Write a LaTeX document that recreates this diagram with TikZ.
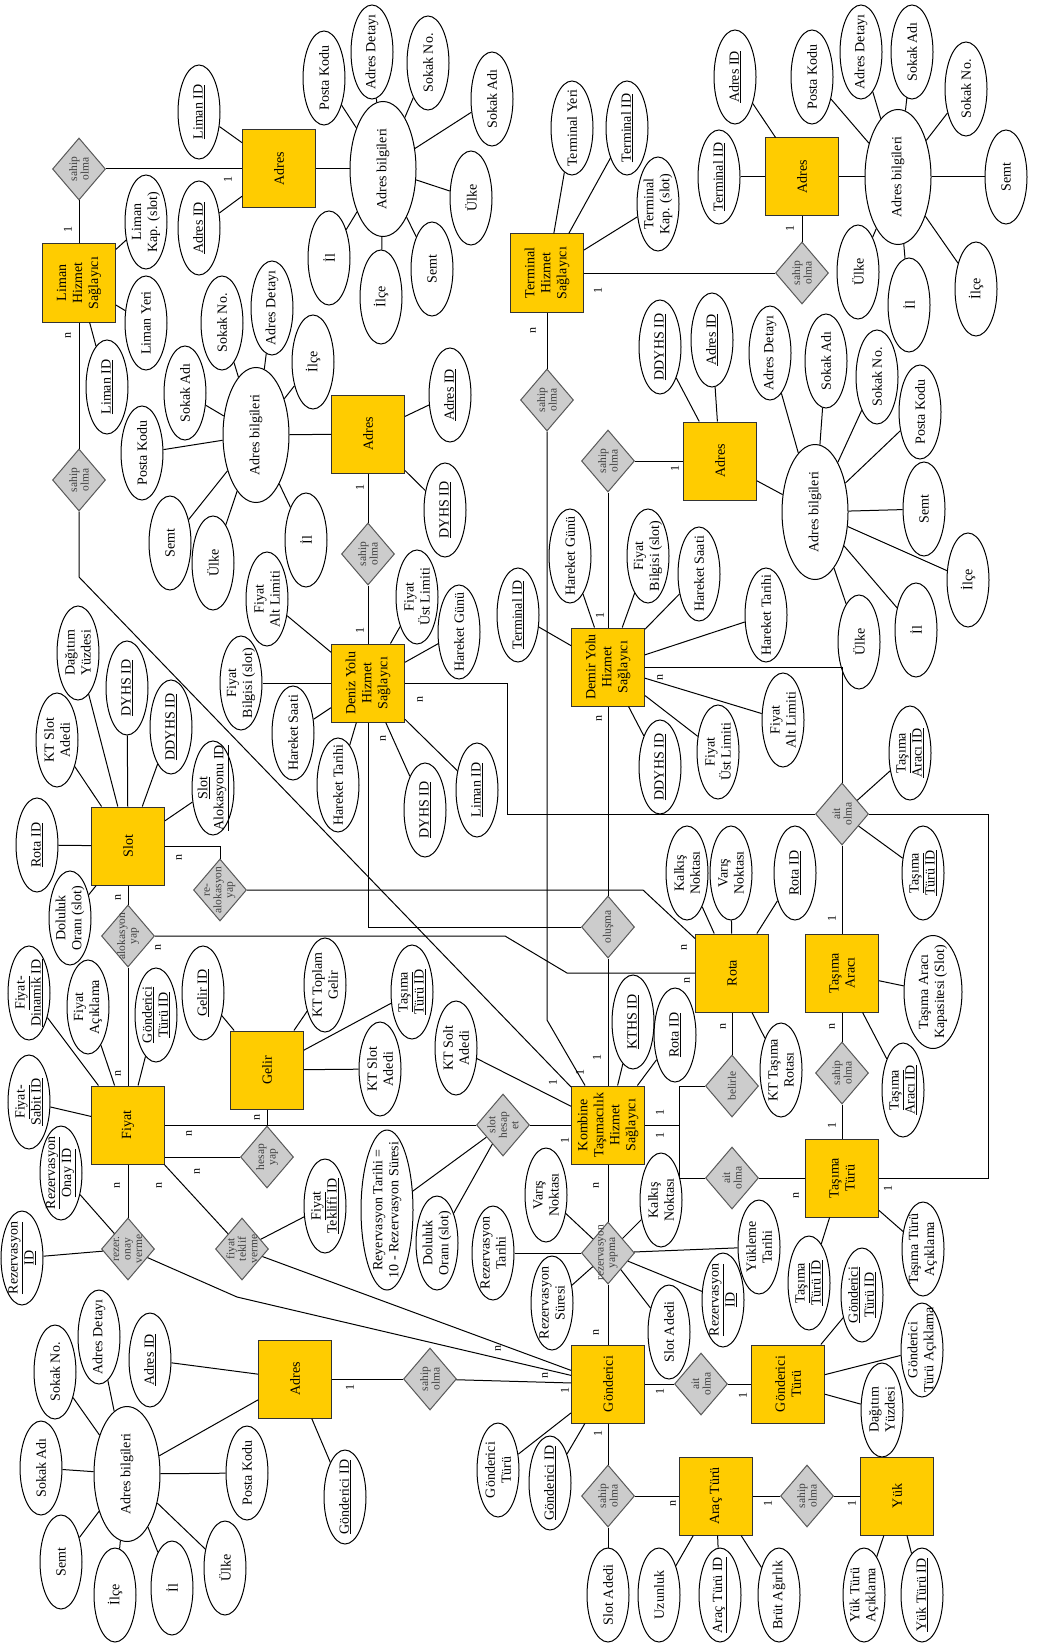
\documentclass[tikz,border=0pt]{standalone}
\usepackage{fontspec}
\setmainfont{Liberation Serif}
\usetikzlibrary{shapes.geometric}
\definecolor{entyellow}{HTML}{FFCC00}
\definecolor{relgray}{HTML}{CCCCCC}
\newcommand{\relfont}{\fontsize{11.5}{11.5}\selectfont}
\newcommand{\cardfont}{\fontsize{12}{12}\selectfont}
\tikzset{ent/.style={draw=black!80,fill=entyellow,rotate=90,minimum width=78pt,minimum height=73pt,inner sep=-30pt,align=center},
  rel/.style={diamond,draw=black!65,fill=relgray,rotate=90,minimum width=62pt,minimum height=53pt,inner sep=-30pt,align=center,font=\relfont,text=black!75},
  attr/.style={ellipse,draw,rotate=90,minimum width=94pt,minimum height=42pt,inner sep=-30pt,align=center},
  info/.style={attr,minimum width=135pt,minimum height=66pt},
  card/.style={rotate=90,inner sep=0pt,font=\cardfont}}

\begin{document}
\begin{tikzpicture}[x=1pt,y=-1pt,line width=1pt,font=\fontsize{14}{16}\selectfont]
\useasboundingbox[fill=white] (0,0) rectangle (1038,1645);
\node[ent] (liman) at (79,283){Liman\\Hizmet\\Sağlayıcı};
\node[rel] (dla) at (79,169){sahip\\olma};
\node[rel] (dlk) at (79,480){sahip\\olma};
\node[ent] (ladr) at (279,169){Adres};
\node[attr] (lmid) at (107,387){\underline{Liman ID}};
\node[attr] (lmyer) at (146,323){Liman Yeri};
\node[attr] (lmkap) at (146,222){Liman\\Kap. (slot)};
\node[attr] (lalid) at (199,112){\underline{Liman ID}};
\node[attr] (laid) at (199,228){\underline{Adres ID}};
\node[info] (lab) at (383,169){Adres bilgileri};
\node[attr] (lab1) at (324,78){Posta Kodu};
\node[attr] (lab2) at (372,52){Adres Detayı};
\node[attr] (lab3) at (428,63){Sokak No.};
\node[attr] (lab4) at (492,99){Sokak Adı};
\node[attr] (lab5) at (471,198){Ülke};
\node[attr] (lab6) at (432,269){Semt};
\node[attr] (lab7) at (381,297){İlçe};
\node[attr] (lab8) at (329,258){İl};

\node[ent] (term) at (547,273){Terminal\\Hizmet\\Sağlayıcı};
\node[rel] (dta) at (802,273){sahip\\olma};
\node[rel] (dtk) at (547,400){sahip\\olma};
\node[ent] (tadr) at (802,177){Adres};
\node[attr] (tyer) at (572,128){Terminal Yeri};
\node[attr] (tid) at (627,128){\underline{Terminal ID}};
\node[attr] (tkap) at (658,204){Terminal\\Kap. (slot)};
\node[attr] (tatid) at (719,177){\underline{Terminal ID}};
\node[attr] (taid) at (735,77){\underline{Adres ID}};
\node[info] (tab) at (898,177){Adres bilgileri};
\node[attr] (tab1) at (812,77){Posta Kodu};
\node[attr] (tab2) at (861,52){Adres Detayı};
\node[attr] (tab3) at (912,52){Sokak Adı};
\node[attr] (tab4) at (966,89){Sokak No.};
\node[attr] (tab5) at (1006,177){Semt};
\node[attr] (tab6) at (976,289){İlçe};
\node[attr] (tab7) at (909,305){İl};
\node[attr] (tab8) at (858,272){Ülke};

\node[ent] (deniz) at (368,683){Deniz Yolu\\Hizmet\\Sağlayıcı};
\node[rel] (dda) at (368,554){sahip\\olma};
\node[ent] (dadr) at (368,434){Adres};
\node[attr] (daid) at (450,395){\underline{Adres ID}};
\node[attr] (dadyid) at (445,510){\underline{DYHS ID}};
\node[info] (dab) at (256,435){Adres bilgileri};
\node[attr] (dab1) at (222,323){Sokak No.};
\node[attr] (dab2) at (272,308){Adres Detayı};
\node[attr] (dab3) at (313,362){İlçe};
\node[attr] (dab4) at (185,393){Sokak Adı};
\node[attr] (dab5) at (142,453){Posta Kodu};
\node[attr] (dab6) at (170,543){Semt};
\node[attr] (dab7) at (213,563){Ülke};
\node[attr] (dab8) at (306,540){İl};
\node[attr] (dn1) at (267,599){Fiyat\\Alt Limiti};
\node[attr] (dn2) at (417,597){Fiyat\\Üst Limiti};
\node[attr] (dn3) at (241,683){Fiyat\\Bilgisi (slot)};
\node[attr] (dn4) at (459,632){Hareket Günü};
\node[attr] (dn5) at (293,733){Hareket Saati};
\node[attr] (dn6) at (338,785){Hareket Tarihi};
\node[attr] (dn7) at (425,810){\underline{DYHS ID}};
\node[attr] (dn8) at (477,790){\underline{Liman ID}};

\node[ent] (demir) at (608,667){Demir Yolu\\Hizmet\\Sağlayıcı};
\node[rel] (dya) at (608,461){sahip\\olma};
\node[ent] (yadr) at (720,461){Adres};
\node[attr] (yaid1) at (660,347){\underline{DDYHS ID}};
\node[attr] (yaid2) at (712,340){\underline{Adres ID}};
\node[info] (yab) at (815,512){Adres bilgileri};
\node[attr] (yab1) at (770,353){Adres Detayı};
\node[attr] (yab2) at (826,361){Sokak Adı};
\node[attr] (yab3) at (877,377){Sokak No.};
\node[attr] (yab4) at (920,412){Posta Kodu};
\node[attr] (yab5) at (924,509){Semt};
\node[attr] (yab6) at (968,580){İlçe};
\node[attr] (yab7) at (916,630){İl};
\node[attr] (yab8) at (859,642){Ülke};
\node[attr] (dm1) at (518,615){\underline{Terminal ID}};
\node[attr] (dm2) at (570,556){Hareket Günü};
\node[attr] (dm3) at (648,556){Fiyat\\Bilgisi (slot)};
\node[attr] (dm4) at (699,574){Hareket Saati};
\node[attr] (dm5) at (766,615){Hareket Tarihi};
\node[attr] (dm6) at (783,720){Fiyat\\Alt Limiti};
\node[attr] (dm7) at (718,752){Fiyat\\Üst Limiti};
\node[attr] (dm8) at (660,767){\underline{DDYHS ID}};
\node[rel] (dait1) at (842,814){ait\\olma};
\node[attr] (ta1) at (910,753){\underline{Taşıma}\\\underline{Aracı ID}};
\node[attr] (ta2) at (923,873){\underline{Taşıma}\\\underline{Türü ID}};

\node[ent] (slot) at (128,846){Slot};
\node[attr] (sl1) at (37,845){\underline{Rota ID}};
\node[attr] (sl2) at (70,918){Doluluk\\Oranı (slot)};
\node[attr] (sl3) at (57,740){KT Slot\\Adedi};
\node[attr] (sl4) at (78,653){Dağıtım\\Yüzdesi};
\node[attr] (sl5) at (127,688){\underline{DYHS ID}};
\node[attr] (sl6) at (171,727){\underline{DDYHS ID}};
\node[attr] (sl7) at (213,788){\underline{Slot}\\\underline{Alokasyonu ID}};
\node[rel] (dre) at (220,890){re-\\alokasyon\\yap};
\node[rel] (dal) at (128,936){alokasyon\\yap};

\node[ent] (fiyat) at (128,1125){Fiyat};
\node[attr] (fy1) at (29,993){\underline{Fiyat-}\\\underline{Dinamik ID}};
\node[attr] (fy2) at (88,1007){Fiyat\\Açıklama};
\node[attr] (fy3) at (156,1015){\underline{Gönderici}\\\underline{Türü ID}};
\node[attr] (fy4) at (29,1102){\underline{Fiyat-}\\\underline{Sabit ID}};
\node[rel] (dron) at (128,1249){rezer.\\onay\\verme};
\node[attr] (ro1) at (61,1173){\underline{Rezervasyon}\\\underline{Onay ID}};
\node[attr] (ro2) at (22,1258){\underline{Rezervasyon}\\\underline{ID}};
\node[rel] (dfte) at (242,1249){fiyat\\teklif\\verme};
\node[attr] (ft1) at (325,1206){\underline{Fiyat}\\\underline{Teklifi ID}};

\node[ent] (gelir) at (267,1070){Gelir};
\node[attr] (gl1) at (203,993){\underline{Gelir ID}};
\node[attr] (gl2) at (325,985){KT Toplam\\Gelir};
\node[attr] (gl3) at (412,992){\underline{Taşıma}\\\underline{Türü ID}};
\node[attr] (gl4) at (380,1069){KT Slot\\Adedi};
\node[rel] (dhes) at (267,1157){hesap\\yap};
\node[rel] (dshe) at (503,1125){slot\\hesap\\et};
\node[attr,minimum width=160pt,minimum height=52pt] (sh1) at (387,1210){Reyervasyon Tarihi =\\10 - Rezervasyon Süresi};
\node[attr] (sh2) at (437,1243){Doluluk\\Oranı (slot)};
\node[attr] (kt1) at (456,1048){KT Solt\\Adedi};

\node[ent] (komb) at (608,1125){Kombine\\Taşımacılık\\Hizmet\\Sağlayıcı};
\node[attr] (kb1) at (633,1022){\underline{KTHS ID}};
\node[attr] (kb2) at (675,1035){\underline{Rota ID}};
\node[rel] (dol) at (608,927){oluşma};
\node[ent] (rota) at (732,973){Rota};
\node[attr] (rt1) at (687,873){Kalkış\\Noktası};
\node[attr] (rt2) at (731,873){Varış\\Noktası};
\node[attr] (rt3) at (795,873){\underline{Rota ID}};
\node[attr] (rt4) at (781,1070){KT Taşıma\\Rotası};
\node[rel] (dbel) at (732,1086){belirle};
\node[ent] (tarac) at (842,973){Taşıma\\Aracı};
\node[attr,minimum width=113pt,minimum height=58pt] (tr1) at (933,992){Taşıma Aracı\\Kapasitesi (Slot)};
\node[attr] (tr2) at (903,1090){\underline{Taşıma}\\\underline{Aracı ID}};
\node[rel] (dsta) at (842,1073){sahip\\olma};
\node[ent] (tturu) at (842,1178){Taşıma\\Türü};
\node[attr] (tt1) at (809,1283){\underline{Taşıma}\\\underline{Türü ID}};
\node[attr] (tt2) at (923,1249){Taşıma Türü\\Açıklama};
\node[rel] (dait2) at (732,1178){ait\\olma};

\node[rel] (dryp) at (608,1253){rezervasyon\\yapma};
\node[attr] (ry1) at (546,1195){Varış\\Noktası};
\node[attr] (ry2) at (661,1200){Kalkış\\Noktası};
\node[attr] (ry3) at (493,1253){Rezervasyon\\Tarihi};
\node[attr] (ry4) at (552,1303){Rezervasyon\\Süresi};
\node[attr] (ry5) at (669,1332){Slot Adedi};
\node[attr] (ry6) at (723,1300){\underline{Rezervasyon}\\\underline{ID}};
\node[attr] (ry7) at (759,1247){Yükleme\\Tarihi};

\node[ent] (gond) at (608,1384){Gönderici};
\node[attr] (gn1) at (498,1470){Gönderici\\Türü};
\node[attr] (gn2) at (550,1483){\underline{Gönderici ID}};
\node[rel] (dait3) at (701,1384){ait\\olma};
\node[ent] (gturu) at (788,1384){Gönderici\\Türü};
\node[attr] (gt1) at (862,1295){\underline{Gönderici}\\\underline{Türü ID}};
\node[attr] (gt2) at (922,1350){Gönderici\\Türü Açıklama};
\node[attr] (gt3) at (882,1410){Dağıtım\\Yüzdesi};
\node[rel] (dsar) at (608,1496){sahip\\olma};
\node[attr] (sadet) at (608,1595){Slot Adedi};
\node[ent] (arac) at (716,1496){Araç Türü};
\node[attr] (ar1) at (659,1595){Uzunluk};
\node[attr] (ar2) at (720,1595){\underline{Araç Türü ID}};
\node[attr] (ar3) at (779,1595){Brüt Ağırlık};
\node[rel] (dsyk) at (807,1496){sahip\\olma};
\node[ent] (yuk) at (897,1496){Yük};
\node[attr] (yk1) at (864,1595){Yük Türü\\Açıklama};
\node[attr] (yk2) at (922,1595){\underline{Yük Türü ID}};

\node[rel] (dsga) at (430,1379){sahip\\olma};
\node[ent] (gadr) at (295,1379){Adres};
\node[attr] (ga1) at (150,1360){\underline{Adres ID}};
\node[attr] (ga2) at (345,1497){\underline{Gönderici ID}};
\node[info] (gab) at (127,1474){Adres bilgileri};
\node[attr] (gab1) at (99,1337){Adres Detayı};
\node[attr] (gab2) at (55,1372){Sokak No.};
\node[attr] (gab3) at (41,1468){Sokak Adı};
\node[attr] (gab4) at (61,1562){Semt};
\node[attr] (gab5) at (115,1595){İlçe};
\node[attr] (gab6) at (172,1588){İl};
\node[attr] (gab7) at (225,1568){Ülke};
\node[attr] (gab8) at (247,1473){Posta Kodu};

\foreach \i in {1,...,8}{\draw (lab)--(lab\i); \draw (tab)--(tab\i); \draw (dab)--(dab\i); \draw (yab)--(yab\i); \draw (gab)--(gab\i);}
\foreach \n in {lmid,lmyer,lmkap}{\draw (liman)--(\n);}
\foreach \n in {lalid,laid,lab}{\draw (ladr)--(\n);}
\foreach \n in {tyer,tid,tkap}{\draw (term)--(\n);}
\foreach \n in {tatid,taid,tab}{\draw (tadr)--(\n);}
\foreach \n in {daid,dadyid,dab}{\draw (dadr)--(\n);}
\foreach \n in {dn1,dn2,dn3,dn4,dn5,dn6,dn7,dn8}{\draw (deniz)--(\n);}
\foreach \n in {yaid1,yaid2,yab}{\draw (yadr)--(\n);}
\foreach \n in {dm1,dm2,dm3,dm4,dm5,dm6,dm7,dm8}{\draw (demir)--(\n);}
\foreach \n in {ta1,ta2}{\draw (dait1)--(\n);}
\foreach \n in {sl1,sl2,sl3,sl4,sl5,sl6,sl7}{\draw (slot)--(\n);}
\foreach \n in {fy1,fy2,fy3,fy4}{\draw (fiyat)--(\n);}
\foreach \n in {ro1,ro2}{\draw (dron)--(\n);}
\draw (dfte)--(ft1);
\foreach \n in {gl1,gl2,gl3,gl4}{\draw (gelir)--(\n);}
\foreach \n in {sh1,sh2}{\draw (dshe)--(\n);}
\foreach \n in {kt1,kb1,kb2}{\draw (komb)--(\n);}
\foreach \n in {rt1,rt2,rt3,rt4}{\draw (rota)--(\n);}
\foreach \n in {tr1,tr2}{\draw (tarac)--(\n);}
\foreach \n in {tt1,tt2}{\draw (tturu)--(\n);}
\foreach \n in {ry1,ry2,ry3,ry4,ry5,ry6,ry7}{\draw (dryp)--(\n);}
\foreach \n in {gn1,gn2}{\draw (gond)--(\n);}
\foreach \n in {gt1,gt2,gt3}{\draw (gturu)--(\n);}
\foreach \n in {ar1,ar2,ar3}{\draw (arac)--(\n);}
\foreach \n in {yk1,yk2}{\draw (yuk)--(\n);}
\foreach \n in {ga1,ga2,gab}{\draw (gadr)--(\n);}

\draw (liman)--(dla); \draw (dla)--(ladr); \draw (liman)--(dlk);
\draw (dlk)--(79,577)--(komb);
\draw (term)--(dta); \draw (dta)--(tadr); \draw (term)--(dtk);
\draw (dtk)--(547,1020)--(komb);
\draw (deniz)--(dda); \draw (dda)--(dadr);
\draw (demir)--(dya); \draw (dya)--(yadr);
\draw (deniz)|-(dol); \draw (demir)--(dol); \draw (dol)--(komb);
\draw (deniz)-|(507,814)--(dait1);
\draw (demir)-|(dait1);
\draw (dait1)--(tarac);
\draw (dait1)-|(988,1178)--(tturu);
\draw (slot)--(dal); \draw (dal)--(fiyat);
\draw (dal)--(505,936)--(567,973)--(rota);
\draw (slot)-|(dre); \draw (dre)--(643,890)--(rota);
\draw (fiyat)--(dshe); \draw (dshe)--(komb);
\draw (gelir)--(dhes); \draw (dhes)--(dhes-|fiyat.south);
\draw (fiyat)--(dron); \draw (fiyat)--(dfte);
\draw (dron)--(237,1297)--(gond);
\draw (dfte)--(gond);
\draw (komb)-|(679,1086)--(dbel); \draw (dbel)--(rota);
\draw (komb)-|(679,1178)--(dait2); \draw (dait2)--(tturu);
\draw (tarac)--(dsta); \draw (dsta)--(tturu);
\draw (komb)--(dryp); \draw (dryp)--(gond);
\draw (gadr)--(dsga); \draw (dsga)--(gond);
\draw (gond)--(dait3); \draw (dait3)--(gturu);
\draw (gond)--(dsar); \draw (dsar)--(arac); \draw (dsar)--(sadet);
\draw (arac)--(dsyk); \draw (dsyk)--(yuk);

\foreach \p/\t [count=\i] in {{228,180}/1,{68,230}/1,{68,335}/n,{598,290}/1,{790,229}/1,{533,330}/n,
  {360,487}/1,{360,630}/1,{383,738}/n,{420,699}/n,{675,468}/1,{600,615}/1,{660,677}/n,{599,718}/n,
  {832,918}/1,{684,947}/n,{687,980}/n,{723,1026}/n,{832,1026}/n,{832,1125}/1,{660,1112}/1,{660,1135}/1,
  {796,1195}/n,{888,1188}/1,{553,1082}/1,{580,1072}/1,{597,1057}/1,{565,1140}/1,{596,1185}/n,
  {179,857}/n,{118,897}/n,{158,947}/n,{118,1073}/n,{257,1117}/n,{189,1133}/n,{197,1171}/n,
  {117,1185}/n,{159,1185}/n,{596,1332}/n,{498,1348}/n,{545,1375}/n,{565,1390}/1,{350,1387}/1,
  {660,1391}/1,{743,1395}/1,{598,1433}/1,{673,1503}/n,{768,1503}/1,{852,1503}/1}
  {\node[card] (card\i) at (\p){\t};}
\end{tikzpicture}
\end{document}
